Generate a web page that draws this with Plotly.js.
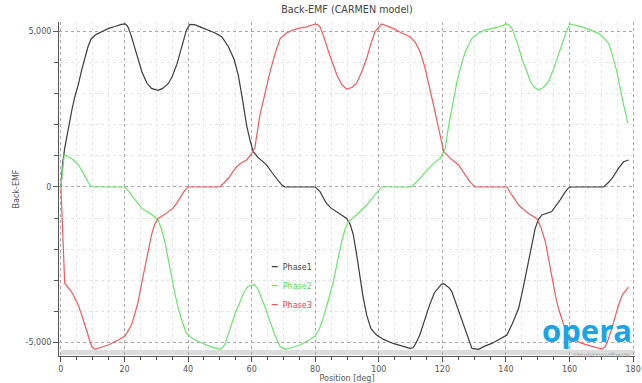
<!DOCTYPE html>
<html>
<head>
<meta charset="utf-8">
<script src="https://cdn.plot.ly/plotly-3.0.1.min.js"></script>
<style>html,body{margin:0;padding:0;background:#fff;}#chart{width:642px;height:383px;}</style>
</head>
<body>
<div id="chart"></div>
<script>
// ---- data ----
const seriesNames = ["Phase1", "Phase2", "Phase3"];

const posPhase1 = [0,0.6,1.2,2.3,3.5,4.5,5.5,6.5,7.5,8.5,9.5,11,13,15,17,19,20.2,21,22,23.3,24.5,25.5,27,28.5,30.6,32,33.8,35,36.5,38,39.5,40.6,42,44,46.3,48.5,50.6,52.7,54.5,55.8,57,58.4,59.5,60.5,62,64.7,66.5,67.9,69.5,70.5,80,81.5,83.5,85,86.6,88.5,89.9,91,92,93,94,95,96.2,97.5,99.3,101.5,104.5,107,109.8,110.8,111.8,112.9,114.5,116,117.5,119.7,120.5,122.3,123,124.5,126.2,127.8,129.3,131.4,133.5,135.6,138,140.3,142,144,145.5,147.1,148.2,149.2,150.2,151.3,154.4,155.7,157,158.5,159.7,160.5,170.7,172,173.4,175.4,177,178.6];
const emfPhase1 = [0,800,1250,1890,2500,2950,3300,3750,4150,4500,4760,4900,5000,5100,5160,5230,5245,5170,4900,4450,4000,3700,3350,3170,3110,3170,3330,3550,3950,4460,5050,5230,5220,5140,5050,4950,4830,4510,4100,3600,2900,1990,1500,1140,950,710,450,280,60,0,0,-150,-520,-680,-790,-900,-1010,-1200,-1540,-2150,-2830,-3500,-4120,-4550,-4760,-4900,-5030,-5110,-5190,-5170,-5000,-4760,-4250,-3790,-3400,-3130,-3110,-3260,-3370,-3800,-4330,-4800,-5190,-5220,-5110,-5030,-4900,-4760,-4400,-3900,-3200,-2400,-1800,-1330,-1050,-900,-790,-620,-420,-180,-30,0,0,120,280,600,810,870];

const posPhase2 = [0,0.5,1.05,2.2,3.35,4.4,5.45,6.5,7.55,8.6,9.65,20.1,21,22.2,23.8,25.4,27,28.5,30.6,31.6,32.7,33.7,34.8,35.9,36.9,38.2,39.5,41.3,43.1,45.2,47.3,49.9,50.7,51.5,52.5,53.6,54.9,56.2,57.5,58.8,60.9,62.1,64,65.8,67.4,69,70.5,72.8,75.2,77.5,79.9,81.2,82.5,84.1,85.7,87,88.3,89.4,90.5,93,94.6,96.2,97.5,98.8,100,100.9,110.3,111.6,113,114.5,116.1,117.7,119.3,120.1,120.9,122,123.3,124.6,125.9,127.2,129.3,131.4,133.5,135.6,137.7,140.3,141.1,141.9,143.5,145,146.3,147.7,149,150.3,151.8,153.4,155,156.5,157.8,159.2,160.2,162,163.9,166.5,169.1,170.7,172.3,173.6,174.9,176,177,178.4];
const emfPhase2 = [0,600,1030,990,920,820,710,550,340,150,0,0,-100,-260,-470,-680,-790,-880,-1060,-1350,-1760,-2300,-2940,-3450,-3900,-4350,-4710,-4860,-4970,-5060,-5140,-5220,-5180,-5080,-4800,-4440,-4050,-3690,-3400,-3200,-3130,-3310,-3800,-4330,-4780,-5140,-5220,-5160,-5080,-4950,-4800,-4600,-4220,-3650,-3040,-2400,-1760,-1350,-1110,-900,-750,-580,-420,-260,-80,0,0,130,280,470,650,800,920,1080,1240,1990,2750,3390,3900,4350,4780,4950,5050,5100,5150,5240,5200,5100,4650,4140,3750,3390,3200,3120,3200,3390,3800,4240,4650,5050,5240,5200,5150,5050,4940,4800,4620,4200,3710,3150,2640,2050];

const posPhase3 = [0,0.5,1.2,3.35,5.45,6.5,7.55,8.6,9.65,10.7,12.5,14.9,18,20.1,21,22.2,23.2,24.3,25.3,26.4,27.5,28.5,29.5,30.6,32.7,35.3,36.7,38,39,40,50,51.2,52.7,54,55.3,56.8,58.4,59.8,61,62.6,64.2,65.8,67.4,69,71,73.1,75,77.3,79.9,80.7,81.5,82.8,84.2,85.5,86.8,88.3,89.9,91.5,93,94.6,96.2,97.5,98.8,100.9,102.5,104.5,107,109.8,111.5,113,114.5,116.1,117.5,118.8,119.7,120.4,122.5,125.1,127.2,128.8,130.3,140.3,142,144,145.5,147.1,149.7,151,152.4,153.4,154.4,155.5,156.5,157.8,159.2,161.5,163.9,166.5,169.1,170.2,171.2,172.2,173.3,174.4,175.4,176.7,178,178.6];
const emfPhase3 = [0,-1500,-3100,-3370,-3790,-4100,-4440,-4800,-5130,-5220,-5160,-5080,-4920,-4800,-4650,-4440,-4100,-3690,-3150,-2620,-2050,-1540,-1200,-1010,-880,-680,-480,-260,-100,0,0,120,280,480,650,780,870,1050,1250,2310,3050,3710,4300,4780,4950,5050,5110,5150,5240,5220,5150,4800,4350,3950,3600,3300,3150,3200,3330,3700,4140,4600,5000,5240,5180,5100,4960,4830,4650,4350,3850,3170,2500,1890,1450,1140,920,710,390,150,0,0,-280,-580,-720,-850,-1010,-1300,-1760,-2300,-2940,-3450,-3900,-4350,-4760,-4900,-5030,-5110,-5190,-5210,-5140,-4900,-4550,-4150,-3800,-3450,-3280,-3220];

const xTickVals = [0,20,40,60,80,100,120,140,160,180];
const xTickText = ["0","20","40","60","80","100","120","140","160","180"];
const yTickVals = [-5000, 0, 5000];
const yTickText = ["-5,000", "0", "5,000"];

// ---- styling ----
const lineColors = ["#3c3c3c", "#6ee46e", "#ee5c5c"];
const FONT = "DejaVu Sans, Verdana, sans-serif";

function legendName(name, color) {
  return '<span style="color:' + color + '">' + name + '</span>';
}

const traces = [
  {x: posPhase1, y: emfPhase1, name: legendName(seriesNames[0], "#444"), line: {color: lineColors[0], width: 1.2}},
  {x: posPhase2, y: emfPhase2, name: legendName(seriesNames[1], "#55dd55"), line: {color: lineColors[1], width: 1.2}},
  {x: posPhase3, y: emfPhase3, name: legendName(seriesNames[2], "#ee4444"), line: {color: lineColors[2], width: 1.2}}
].map(t => Object.assign({type: "scatter", mode: "lines", hoverinfo: "skip", cliponaxis: false}, t));

// plot area: x 59..635 px, y 22..356 px
const layout = {
  width: 642, height: 383,
  margin: {l: 59, r: 7, t: 22, b: 27, pad: 0},
  paper_bgcolor: "#ffffff",
  plot_bgcolor: "#ffffff",
  font: {family: FONT, size: 8, color: "#555"},
  showlegend: true,
  title: {
    text: "Back-EMF (CARMEN model)",
    font: {family: FONT, size: 9.6, color: "#444"},
    x: 0.5, xref: "paper", xanchor: "center",
    y: 1 - 10 / 383, yref: "container", yanchor: "middle"
  },
  xaxis: {
    range: [-0.6, 180.6],
    tickmode: "array", tickvals: xTickVals, ticktext: xTickText,
    ticks: "outside", ticklen: 5, tickcolor: "#555", tickwidth: 1,
    showline: true, linecolor: "#555", linewidth: 1,
    showgrid: true, gridcolor: "#a8a8a8", griddash: "dot", gridwidth: 1,
    zeroline: false,
    tickfont: {family: FONT, size: 8, color: "#555"},
    minor: {tickmode: "linear", tick0: 0, dtick: 5, ticks: "outside", ticklen: 3, tickcolor: "#555",
            showgrid: true, gridcolor: "#e6e6e6", gridwidth: 1},
    title: {text: "Position [deg]", font: {family: FONT, size: 8, color: "#555"}, standoff: 10},
    automargin: false, fixedrange: true
  },
  yaxis: {
    range: [-5434, 5305],
    tickmode: "array", tickvals: yTickVals, ticktext: yTickText,
    ticks: "outside", ticklen: 5, tickcolor: "#555", tickwidth: 1,
    showline: true, linecolor: "#555", linewidth: 1,
    showgrid: true, gridcolor: "#a8a8a8", griddash: "dot", gridwidth: 1,
    zeroline: false,
    tickfont: {family: FONT, size: 8, color: "#555"},
    minor: {tickmode: "linear", tick0: 0, dtick: 1000, ticks: "outside", ticklen: 4, tickcolor: "#555",
            showgrid: true, gridcolor: "#e6e6e6", gridwidth: 1},
    title: {text: "Back-EMF", font: {family: FONT, size: 8, color: "#555"}, standoff: 4},
    automargin: false, fixedrange: true
  },
  legend: {
    x: 0.319, y: 0.311, xanchor: "left", yanchor: "top",
    bgcolor: "rgba(0,0,0,0)", borderwidth: 0,
    font: {family: FONT, size: 8, color: "#444"},
    traceorder: "normal"
  },
  shapes: [
    {type: "rect", xref: "paper", yref: "paper", x0: 0.003, x1: 1, y0: 0.003, y1: 0.018,
     fillcolor: "#dcdcdc", line: {width: 0}, layer: "below"}
  ],
  annotations: [
    {text: "<b>opera</b>", xref: "paper", yref: "paper",
     x: (634 - 59) / 576, y: (356 - 330) / 334, xanchor: "right", yanchor: "middle",
     showarrow: false, font: {family: "Open Sans, DejaVu Sans, sans-serif", size: 31, color: "#1ba3e3"}},
    {text: "simulationsoftware", xref: "paper", yref: "paper",
     x: (632 - 59) / 576, y: (356 - 354) / 334, xanchor: "right", yanchor: "middle",
     showarrow: false, font: {family: FONT, size: 6, color: "#999"}}
  ]
};

Plotly.newPlot("chart", traces, layout, {displayModeBar: false, staticPlot: true}).then(function () {
  document.querySelectorAll(".legend .legendlines path").forEach(function (p) {
    p.setAttribute("d", "M29,0h6");
  });
});
</script>
</body>
</html>
